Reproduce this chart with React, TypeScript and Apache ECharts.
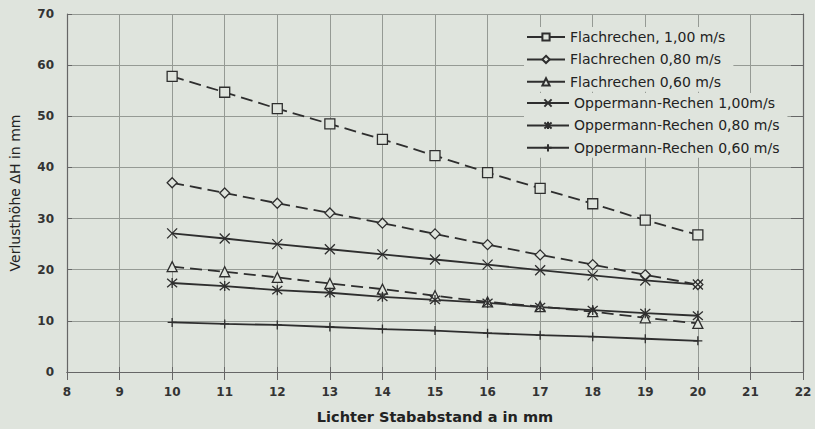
import React, { useEffect, useRef } from "react";
import * as echarts from "echarts";

const xValues = [10, 11, 12, 13, 14, 15, 16, 17, 18, 19, 20];
const flach100 = [57.8, 54.7, 51.5, 48.5, 45.5, 42.3, 39.0, 35.9, 32.9, 29.7, 26.8];
const flach080 = [37.0, 35.0, 33.0, 31.1, 29.1, 27.0, 24.9, 22.9, 21.0, 19.0, 17.1];
const flach060 = [20.6, 19.6, 18.5, 17.3, 16.2, 14.9, 13.7, 12.8, 11.8, 10.6, 9.5];
const opp100 = [27.1, 26.1, 25.0, 24.0, 23.0, 22.0, 21.0, 19.9, 18.9, 17.9, 17.1];
const opp080 = [17.4, 16.8, 16.0, 15.5, 14.7, 14.1, 13.5, 12.7, 12.1, 11.5, 11.0];
const opp060 = [9.7, 9.4, 9.2, 8.8, 8.4, 8.1, 7.6, 7.2, 6.9, 6.5, 6.1];

const seriesNames = [
  "Flachrechen, 1,00 m/s",
  "Flachrechen 0,80 m/s",
  "Flachrechen 0,60 m/s",
  "Oppermann-Rechen 1,00m/s",
  "Oppermann-Rechen 0,80 m/s",
  "Oppermann-Rechen 0,60 m/s",
];

const BG = "#dfe4dd";
const INK = "#2e2e2e";
const FONT = "DejaVu Sans, Verdana, sans-serif";

const SYM_X = "path://M0,0L10,10M10,0L0,10";
const SYM_AST = "path://M0,0L10,10M10,0L0,10M5,-1L5,11";
const SYM_PLUS = "path://M5,0L5,10M0,5L10,5";

export default function App() {
  const ref = useRef<HTMLDivElement>(null);
  useEffect(() => {
    if (!ref.current) return;
    const chart = echarts.init(ref.current, undefined, { renderer: "svg" });
    const pts = (arr: number[]) => xValues.map((x, i) => [x, arr[i]]);
    const dashed = [12, 6];
    const mk = (
      name: string,
      data: number[],
      symbol: string,
      size: number,
      dash: boolean,
      filled: boolean
    ) => ({
      name,
      type: "line",
      data: pts(data),
      symbol,
      symbolSize: size,
      showAllSymbol: true,
      lineStyle: { color: INK, width: 1.8, type: dash ? dashed : "solid" },
      itemStyle: { color: filled ? INK : BG, borderColor: INK, borderWidth: 1.3 },
      z: 3,
    });
    const series = [
      mk(seriesNames[0], flach100, "rect", 10, true, false),
      mk(seriesNames[1], flach080, "diamond", 10, true, false),
      mk(seriesNames[2], flach060, "triangle", 10, true, false),
      mk(seriesNames[3], opp100, SYM_X, 10, false, true),
      mk(seriesNames[4], opp080, SYM_AST, 10, false, true),
      mk(seriesNames[5], opp060, SYM_PLUS, 9, false, true),
    ];
    const legendText = { color: "#222", fontSize: 14, lineHeight: 14, fontFamily: FONT };
    const axisLabelStyle = {
      color: "#333",
      fontSize: 12,
      fontWeight: "bold" as const,
      fontFamily: FONT,
    };
    chart.setOption({
      animation: false,
      backgroundColor: BG,
      grid: { left: 63, right: 12, top: 14, bottom: 55 },
      legend: [
        {
          orient: "vertical",
          left: 524,
          top: 27,
          itemWidth: 38,
          itemHeight: 9,
          itemGap: 8.4,
          backgroundColor: BG,
          padding: [3, 8, 3, 2],
          data: seriesNames.slice(0, 3).map((n) => ({ name: n, lineStyle: { type: "solid" } })),
          textStyle: legendText,
          z: 10,
        },
        {
          orient: "vertical",
          left: 524,
          top: 93,
          itemWidth: 42,
          itemHeight: 9,
          itemGap: 8.4,
          backgroundColor: BG,
          padding: [3, 8, 3, 2],
          data: seriesNames.slice(3),
          textStyle: legendText,
          z: 10,
        },
      ],
      xAxis: [
        {
          type: "value",
          min: 8,
          max: 22,
          interval: 1,
          name: "Lichter Stababstand a in mm",
          nameLocation: "middle",
          nameGap: 37,
          nameTextStyle: {
            color: "#222",
            fontSize: 14.5,
            fontWeight: "bold",
            fontFamily: FONT,
          },
          axisLine: { lineStyle: { color: "#666", width: 1.2 } },
          axisTick: { inside: true, length: 5, lineStyle: { color: "#666" } },
          axisLabel: { ...axisLabelStyle, margin: 14 },
          splitLine: { show: true, lineStyle: { color: "#959a94", width: 1 } },
        },
        {
          type: "value",
          position: "top",
          min: 8,
          max: 22,
          interval: 1,
          axisLine: { show: true, lineStyle: { color: "#666", width: 1.2 } },
          axisTick: { show: true, inside: true, length: 8, lineStyle: { color: "#666" } },
          axisLabel: { show: false },
          splitLine: { show: false },
          z: 12,
        },
      ],
      yAxis: [
        {
          type: "value",
          min: 0,
          max: 70,
          interval: 10,
          name: "Verlusthöhe ΔH in mm",
          nameLocation: "middle",
          nameGap: 45,
          nameTextStyle: {
            color: "#222",
            fontSize: 14,
            fontFamily: FONT,
          },
          axisLine: { show: true, lineStyle: { color: "#666", width: 1.2 } },
          axisTick: { show: true, inside: true, length: 5, lineStyle: { color: "#666" } },
          axisLabel: { ...axisLabelStyle, margin: 13 },
          splitLine: { show: true, lineStyle: { color: "#959a94", width: 1 } },
        },
        {
          type: "value",
          position: "right",
          min: 0,
          max: 70,
          interval: 10,
          axisLine: { show: true, lineStyle: { color: "#666", width: 1.2 } },
          axisTick: { show: true, inside: true, length: 12, lineStyle: { color: "#666" } },
          axisLabel: { show: false },
          splitLine: { show: false },
          z: 12,
        },
      ],
      series,
    });
    return () => chart.dispose();
  }, []);
  return (
    <div
      ref={ref}
      style={{ position: "fixed", left: 0, top: 0, width: 815, height: 429 }}
    />
  );
}
